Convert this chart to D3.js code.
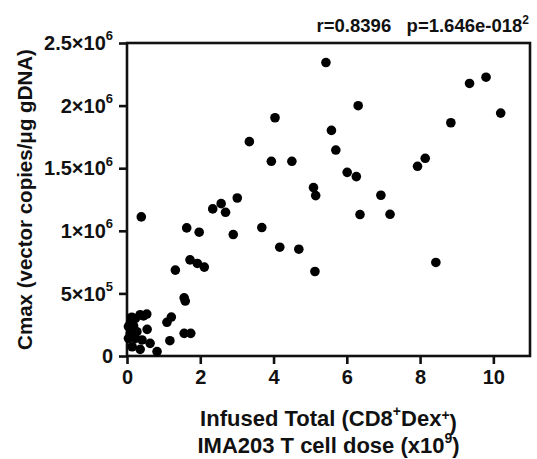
<!DOCTYPE html>
<html>
<head>
<meta charset="utf-8">
<script src="https://cdn.jsdelivr.net/npm/d3@7"></script>
<style>
  body { margin: 0; background: white; }
  text { font-family: "Liberation Sans", Arial, sans-serif; font-weight: bold; fill: #111; }
</style>
</head>
<body>
<script>
// dose (x10^9 cells) and Cmax (x10^6 vector copies/ug gDNA)
var doseX = [5.43, 4.04, 3.34, 3.94, 4.50, 5.58, 5.70, 6.31, 6.01, 6.26, 5.09, 5.15, 6.93, 7.93, 8.14,
             8.84, 9.35, 9.80, 10.20, 6.36, 7.18, 8.43, 3.01, 2.34, 2.57, 2.69, 0.39, 1.63, 1.97, 2.90,
             3.68, 4.17, 4.69, 5.13, 1.72, 1.92, 2.11, 1.32, 1.56, 1.59, 1.21, 1.09, 1.56, 1.74, 1.17,
             0.82, 0.63, 0.55, 0.54, 0.36, 0.23, 0.13, 0.09, 0.04, 0.27, 0.09, 0.04, 0.23, 0.41, 0.14,
             0.36, 0.45, 0.18]
var cmaxY = [2.344, 1.903, 1.712, 1.555, 1.555, 1.802, 1.645, 1.999, 1.467, 1.433, 1.345, 1.281, 1.284, 1.515, 1.579,
             1.863, 2.177, 2.227, 1.940, 1.130, 1.132, 0.747, 1.262, 1.175, 1.217, 1.148, 1.111, 1.023, 0.989, 0.970,
             1.026, 0.869, 0.853, 0.675, 0.768, 0.739, 0.710, 0.686, 0.465, 0.439, 0.311, 0.269, 0.181, 0.181, 0.122,
             0.035, 0.101, 0.213, 0.335, 0.330, 0.300, 0.310, 0.260, 0.235, 0.194, 0.181, 0.141, 0.141, 0.128, 0.074,
             0.053, 0.320, 0.240]

var xTicks = [0, 2, 4, 6, 8, 10]
var yTicks = [0, 0.5, 1, 1.5, 2, 2.5]
var yTickMain = ["0", "5×10", "1×10", "1.5×10", "2×10", "2.5×10"]
var yTickSup = ["", "5", "6", "6", "6", "6"]

var margin = {top: 43, right: 7, bottom: 103, left: 127}
var width = 537 - margin.left - margin.right,
    height = 459 - margin.top - margin.bottom

var svg = d3.select("body")
    .append("svg")
    .attr("width", 537)
    .attr("height", 459)

var g = svg.append("g")
    .attr("transform", "translate(" + margin.left + "," + margin.top + ")")

let xScale = d3.scaleLinear()
    .domain([0, 11])
    .range([0, width])
let yScale = d3.scaleLinear()
    .domain([0, 2.5])
    .range([height, 0])

// frame
g.append("rect")
    .attr("x", 0)
    .attr("y", 0)
    .attr("width", width)
    .attr("height", height)
    .attr("fill", "none")
    .attr("stroke", "#111")
    .attr("stroke-width", 2.6)

let xAxis = d3.axisBottom(xScale).tickValues(xTicks).tickSize(8).tickPadding(6)
let yAxis = d3.axisLeft(yScale).tickValues(yTicks).tickSize(8).tickPadding(4).tickFormat("")

var gx = g.append("g")
    .attr("class", "x-axis")
    .attr("transform", "translate(0," + height + ")")
    .call(xAxis)
var gy = g.append("g")
    .attr("class", "y-axis")
    .call(yAxis)

g.selectAll(".domain").remove()
g.selectAll(".tick line").attr("stroke", "#111").attr("stroke-width", 2.6)
gx.selectAll(".tick text").attr("font-size", 20).attr("fill", "#111")

// y tick labels with superscript exponents
var yLab = g.append("g").selectAll("text")
    .data(yTicks)
    .enter()
    .append("text")
    .attr("x", -14)
    .attr("y", d => yScale(d))
    .attr("dy", "0.36em")
    .attr("text-anchor", "end")
    .attr("font-size", 20)
yLab.append("tspan").text((d, i) => yTickMain[i])
yLab.append("tspan")
    .attr("font-size", 13)
    .attr("dy", "-0.75em")
    .text((d, i) => yTickSup[i])

g.selectAll("circle")
    .data(doseX)
    .enter()
    .append("circle")
    .attr("cx", (d, i) => xScale(doseX[i]))
    .attr("cy", (d, i) => yScale(cmaxY[i]))
    .attr("r", 4.8)
    .attr("fill", "#000")

// axis titles
var xt1 = svg.append("text")
    .attr("x", margin.left + width / 2)
    .attr("y", 426)
    .attr("text-anchor", "middle")
    .attr("font-size", 22)
xt1.append("tspan").text("Infused Total (CD8")
xt1.append("tspan").attr("font-size", 14).attr("dy", "-0.7em").text("+")
xt1.append("tspan").attr("dy", "0.45em").text("Dex")
xt1.append("tspan").attr("font-size", 14).attr("dy", "-0.45em").text("+")
xt1.append("tspan").attr("dy", "0.45em").text(")")

var xt2 = svg.append("text")
    .attr("x", margin.left + width / 2)
    .attr("y", 453)
    .attr("text-anchor", "middle")
    .attr("font-size", 22)
xt2.append("tspan").text("IMA203 T cell dose (x10")
xt2.append("tspan").attr("font-size", 14).attr("dy", "-0.7em").text("9")
xt2.append("tspan").attr("dy", "0.45em").text(")")

svg.append("text")
    .attr("transform", "translate(32," + (margin.top + height / 2) + ") rotate(-90)")
    .attr("text-anchor", "middle")
    .attr("font-size", 20.5)
    .text("Cmax (vector copies/μg gDNA)")

var ann = svg.append("text")
    .attr("x", 529)
    .attr("y", 32)
    .attr("text-anchor", "end")
    .attr("font-size", 18.5)
ann.append("tspan").text("r=0.8396\u00a0\u00a0\u00a0p=1.646e-018")
ann.append("tspan").attr("font-size", 12).attr("dy", "-0.7em").text("2")
</script>
</body>
</html>
